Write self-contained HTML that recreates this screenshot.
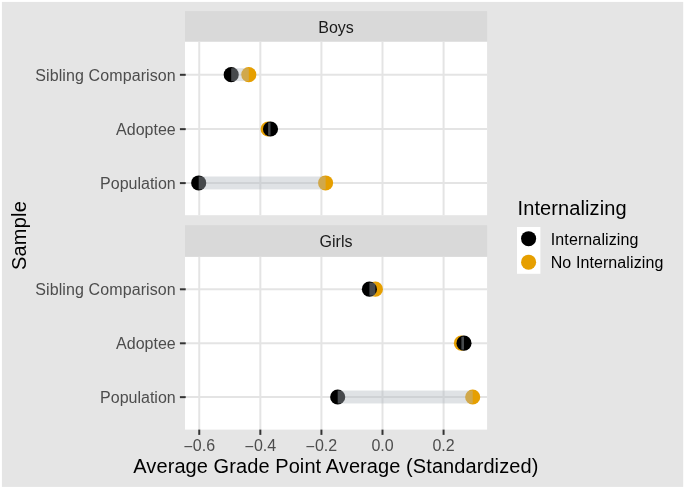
<!DOCTYPE html>
<html><head><meta charset="utf-8"><title>Plot</title>
<style>html,body{margin:0;padding:0;background:#fff}svg{display:block}text{font-family:"Liberation Sans",Arial,Helvetica,sans-serif}</style></head><body>
<svg width="685" height="489" viewBox="0 0 685 489">
<rect x="0" y="0" width="685" height="489" fill="#ffffff"/>
<rect x="1.9" y="1.9" width="681.3" height="485" fill="#e5e5e5"/>
<rect x="185.0" y="11.1" width="302.1" height="30.70" fill="#d9d9d9"/>
<rect x="185.0" y="41.8" width="302.1" height="173.40" fill="#ffffff"/>
<line x1="199.25" x2="199.25" y1="41.8" y2="215.2" stroke="#e4e4e4" stroke-width="2.0"/>
<line x1="260.33" x2="260.33" y1="41.8" y2="215.2" stroke="#e4e4e4" stroke-width="2.0"/>
<line x1="321.42" x2="321.42" y1="41.8" y2="215.2" stroke="#e4e4e4" stroke-width="2.0"/>
<line x1="382.50" x2="382.50" y1="41.8" y2="215.2" stroke="#e4e4e4" stroke-width="2.0"/>
<line x1="443.58" x2="443.58" y1="41.8" y2="215.2" stroke="#e4e4e4" stroke-width="2.0"/>
<line x1="185.0" x2="487.1" y1="74.65" y2="74.65" stroke="#e4e4e4" stroke-width="2.0"/>
<line x1="185.0" x2="487.1" y1="129.0" y2="129.0" stroke="#e4e4e4" stroke-width="2.0"/>
<line x1="185.0" x2="487.1" y1="182.95" y2="182.95" stroke="#e4e4e4" stroke-width="2.0"/>
<circle cx="248.8" cy="74.65" r="7.55" fill="#e69f00"/>
<circle cx="268.1" cy="129.0" r="7.55" fill="#e69f00"/>
<circle cx="325.6" cy="182.95" r="7.55" fill="#e69f00"/>
<circle cx="231.2" cy="74.65" r="7.55" fill="#000000"/>
<circle cx="270.5" cy="129.0" r="7.55" fill="#000000"/>
<circle cx="198.7" cy="182.95" r="7.55" fill="#000000"/>
<rect x="231.2" y="68.20" width="17.60" height="12.9" fill="#aeb6bf" fill-opacity="0.4"/>
<rect x="268.1" y="122.55" width="2.40" height="12.9" fill="#aeb6bf" fill-opacity="0.4"/>
<rect x="198.7" y="176.50" width="126.90" height="12.9" fill="#aeb6bf" fill-opacity="0.4"/>
<text x="336.05" y="32.6" font-size="16" text-anchor="middle" fill="#1a1a1a">Boys</text>
<line x1="179.9" x2="185.7" y1="74.80" y2="74.80" stroke="#333333" stroke-width="2.0"/>
<text x="175.7" y="81.1" font-size="16" text-anchor="end" fill="#4d4d4d" textLength="140.4" lengthAdjust="spacing">Sibling Comparison</text>
<line x1="179.9" x2="185.7" y1="129.15" y2="129.15" stroke="#333333" stroke-width="2.0"/>
<text x="175.7" y="134.7" font-size="16" text-anchor="end" fill="#4d4d4d">Adoptee</text>
<line x1="179.9" x2="185.7" y1="183.10" y2="183.10" stroke="#333333" stroke-width="2.0"/>
<text x="175.7" y="188.6" font-size="16" text-anchor="end" fill="#4d4d4d">Population</text>
<rect x="185.0" y="225.2" width="302.1" height="31.70" fill="#d9d9d9"/>
<rect x="185.0" y="256.9" width="302.1" height="172.70" fill="#ffffff"/>
<line x1="199.25" x2="199.25" y1="256.9" y2="429.6" stroke="#e4e4e4" stroke-width="2.0"/>
<line x1="260.33" x2="260.33" y1="256.9" y2="429.6" stroke="#e4e4e4" stroke-width="2.0"/>
<line x1="321.42" x2="321.42" y1="256.9" y2="429.6" stroke="#e4e4e4" stroke-width="2.0"/>
<line x1="382.50" x2="382.50" y1="256.9" y2="429.6" stroke="#e4e4e4" stroke-width="2.0"/>
<line x1="443.58" x2="443.58" y1="256.9" y2="429.6" stroke="#e4e4e4" stroke-width="2.0"/>
<line x1="185.0" x2="487.1" y1="289.15" y2="289.15" stroke="#e4e4e4" stroke-width="2.0"/>
<line x1="185.0" x2="487.1" y1="343.15" y2="343.15" stroke="#e4e4e4" stroke-width="2.0"/>
<line x1="185.0" x2="487.1" y1="397.0" y2="397.0" stroke="#e4e4e4" stroke-width="2.0"/>
<circle cx="375.4" cy="289.15" r="7.55" fill="#e69f00"/>
<circle cx="461.4" cy="343.15" r="7.55" fill="#e69f00"/>
<circle cx="472.7" cy="397.0" r="7.55" fill="#e69f00"/>
<circle cx="369.4" cy="289.15" r="7.55" fill="#000000"/>
<circle cx="464.0" cy="343.15" r="7.55" fill="#000000"/>
<circle cx="337.7" cy="397.0" r="7.55" fill="#000000"/>
<rect x="369.4" y="282.70" width="6.00" height="12.9" fill="#aeb6bf" fill-opacity="0.4"/>
<rect x="461.4" y="336.70" width="2.60" height="12.9" fill="#aeb6bf" fill-opacity="0.4"/>
<rect x="337.7" y="390.55" width="135.00" height="12.9" fill="#aeb6bf" fill-opacity="0.4"/>
<text x="336.05" y="246.7" font-size="16" text-anchor="middle" fill="#1a1a1a">Girls</text>
<line x1="179.9" x2="185.7" y1="289.30" y2="289.30" stroke="#333333" stroke-width="2.0"/>
<text x="175.7" y="294.6" font-size="16" text-anchor="end" fill="#4d4d4d" textLength="140.4" lengthAdjust="spacing">Sibling Comparison</text>
<line x1="179.9" x2="185.7" y1="343.30" y2="343.30" stroke="#333333" stroke-width="2.0"/>
<text x="175.7" y="348.8" font-size="16" text-anchor="end" fill="#4d4d4d">Adoptee</text>
<line x1="179.9" x2="185.7" y1="397.15" y2="397.15" stroke="#333333" stroke-width="2.0"/>
<text x="175.7" y="402.7" font-size="16" text-anchor="end" fill="#4d4d4d">Population</text>
<line x1="199.25" x2="199.25" y1="429.6" y2="434.90000000000003" stroke="#333333" stroke-width="2.0"/>
<text x="199.25" y="450.5" font-size="16" text-anchor="middle" fill="#4d4d4d"><tspan dy="1.1">−</tspan><tspan dy="-1.1">0.6</tspan></text>
<line x1="260.33" x2="260.33" y1="429.6" y2="434.90000000000003" stroke="#333333" stroke-width="2.0"/>
<text x="260.33" y="450.5" font-size="16" text-anchor="middle" fill="#4d4d4d"><tspan dy="1.1">−</tspan><tspan dy="-1.1">0.4</tspan></text>
<line x1="321.42" x2="321.42" y1="429.6" y2="434.90000000000003" stroke="#333333" stroke-width="2.0"/>
<text x="321.42" y="450.5" font-size="16" text-anchor="middle" fill="#4d4d4d"><tspan dy="1.1">−</tspan><tspan dy="-1.1">0.2</tspan></text>
<line x1="382.50" x2="382.50" y1="429.6" y2="434.90000000000003" stroke="#333333" stroke-width="2.0"/>
<text x="382.50" y="450.5" font-size="16" text-anchor="middle" fill="#4d4d4d">0.0</text>
<line x1="443.58" x2="443.58" y1="429.6" y2="434.90000000000003" stroke="#333333" stroke-width="2.0"/>
<text x="443.58" y="450.5" font-size="16" text-anchor="middle" fill="#4d4d4d">0.2</text>
<text x="335.8" y="473" font-size="20" text-anchor="middle" fill="#000000" textLength="405" lengthAdjust="spacing">Average Grade Point Average (Standardized)</text>
<text transform="translate(25.8,235.6) rotate(-90)" font-size="20" text-anchor="middle" fill="#000000" textLength="68.8" lengthAdjust="spacing">Sample</text>
<text x="517.6" y="215.1" font-size="20" fill="#000000" textLength="108.9" lengthAdjust="spacing">Internalizing</text>
<rect x="517" y="227" width="23.4" height="46.8" fill="#ffffff"/>
<circle cx="528.6" cy="238.7" r="7.55" fill="#000000"/>
<circle cx="528.6" cy="262.2" r="7.55" fill="#e69f00"/>
<text x="550.8" y="244.7" font-size="16" fill="#000000" textLength="87.6" lengthAdjust="spacing">Internalizing</text>
<text x="550.7" y="268.1" font-size="16" fill="#000000" textLength="112.6" lengthAdjust="spacing">No Internalizing</text>
</svg></body></html>
